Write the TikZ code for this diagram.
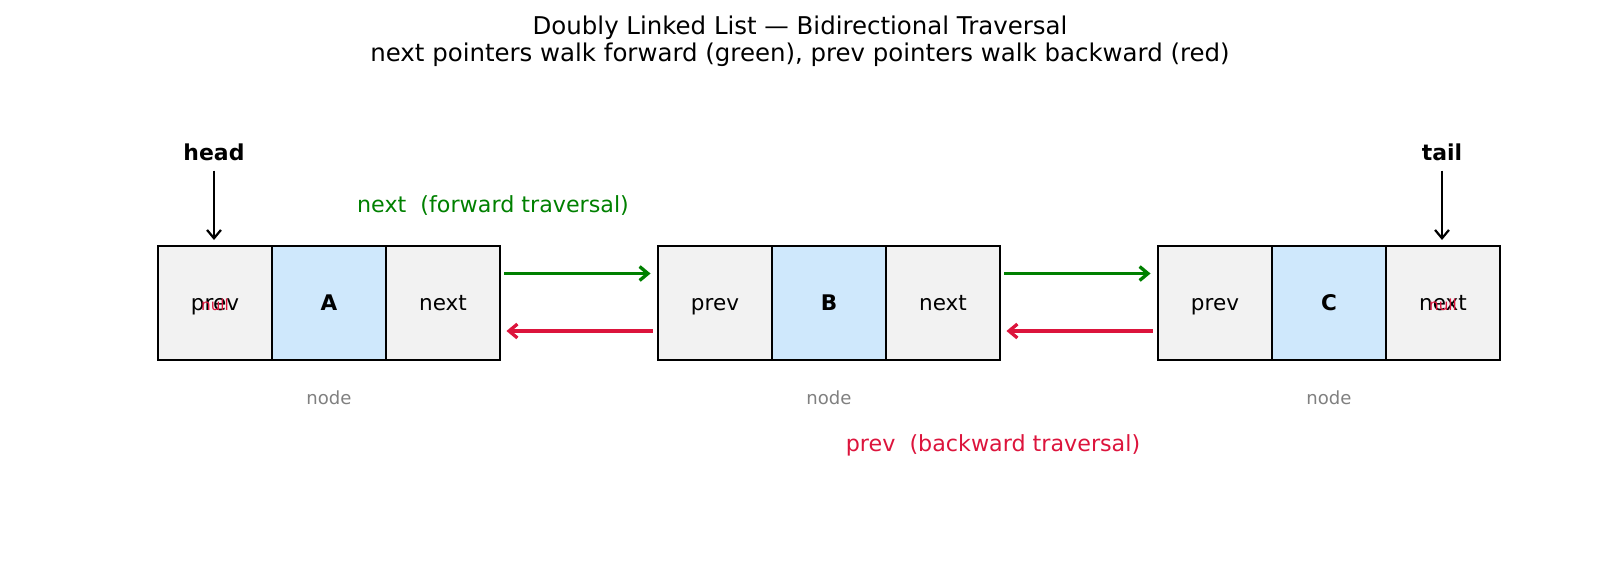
\documentclass[tikz,border=0pt]{standalone}
\usepackage{fontspec}
\setmainfont{DejaVu Sans}
\usetikzlibrary{arrows.meta,calc}
\definecolor{cellgray}{HTML}{F2F2F2}
\definecolor{cellblue}{HTML}{CFE8FC}
\definecolor{fwdgreen}{HTML}{008000}
\definecolor{bwdred}{HTML}{DC143C}
\definecolor{notegray}{HTML}{808080}
\begin{document}
\begin{tikzpicture}[x=0.72pt,y=-0.72pt,
  cell/.style={draw=black, line width=2.1pt, minimum width=82.08pt, minimum height=82.08pt,
    inner sep=0pt, text height=13pt, text depth=2.2pt, font=\fontsize{15.5}{18}\selectfont},
  ptrcell/.style={cell, fill=cellgray},
  valcell/.style={cell, fill=cellblue, font=\fontsize{15.5}{18}\selectfont\bfseries},
  nulltext/.style={text=bwdred, inner sep=0pt, text height=13pt, text depth=2.2pt, font=\fontsize{11}{13}\selectfont},
  nodenote/.style={text=notegray, inner sep=0pt, anchor=base, font=\fontsize{13}{15}\selectfont},
  endlabel/.style={inner sep=0pt, anchor=base, font=\fontsize{15.8}{18}\selectfont\bfseries},
  endarrow/.style={line width=1.6pt, -{Straight Barb[length=6pt,width=10pt]}},
  fwdarrow/.style={draw=fwdgreen, line width=2.4pt, -{Straight Barb[length=6pt,width=10pt]}},
  bwdarrow/.style={draw=bwdred, line width=2.4pt, -{Straight Barb[length=6pt,width=10pt]}},
  titletext/.style={inner sep=0pt, anchor=base, font=\fontsize{17.6}{20}\selectfont},
  travlabel/.style={inner sep=0pt, anchor=base, font=\fontsize{16}{19}\selectfont}
]
\useasboundingbox (0,0) rectangle (1600,567);
% title
\node[titletext] (title1) at (800,34) {Doubly Linked List — Bidirectional Traversal};
\node[titletext] (title2) at (800,61) {next pointers walk forward (green), prev pointers walk backward (red)};
% cells
\node[ptrcell] (aP) at (215,303) {prev};
\node[valcell] (aV) at (329,303) {A};
\node[ptrcell] (aN) at (443,303) {next};
\node[ptrcell] (bP) at (715,303) {prev};
\node[valcell] (bV) at (829,303) {B};
\node[ptrcell] (bN) at (943,303) {next};
\node[ptrcell] (cP) at (1215,303) {prev};
\node[valcell] (cV) at (1329,303) {C};
\node[ptrcell] (cN) at (1443,303) {next};
% null markers
\node[nulltext] (aNull) at (aP.center) {null};
\node[nulltext] (cNull) at (cN.center) {null};
% node notes
\node[nodenote] (aNote) at (329,404) {node};
\node[nodenote] (bNote) at (829,404) {node};
\node[nodenote] (cNote) at (1329,404) {node};
% head / tail
\node[endlabel] (head) at (214,160) {head};
\node[endlabel] (tail) at (1442,160) {tail};
\coordinate (headTip) at (214,240);
\coordinate (tailTip) at (1442,240);
\draw[endarrow] ($(head.south)+(0,10)$) -- (headTip);
\draw[endarrow] ($(tail.south)+(0,10)$) -- (tailTip);
% forward arrows
\draw[fwdarrow] ($(aN.east)+(3,-29.5)$) -- ($(bP.west)+(-6,-29.5)$);
\draw[fwdarrow] ($(bN.east)+(3,-29.5)$) -- ($(cP.west)+(-6,-29.5)$);
% backward arrows
\draw[bwdarrow] ($(bP.west)+(-4,28)$) -- ($(aN.east)+(5,28)$);
\draw[bwdarrow] ($(cP.west)+(-4,28)$) -- ($(bN.east)+(5,28)$);
% traversal labels
\node[travlabel, text=fwdgreen] (fwdLabel) at (493,212) {next\ \ (forward traversal)};
\node[travlabel, text=bwdred] (bwdLabel) at (993,451) {prev\ \ (backward traversal)};
\end{tikzpicture}
\end{document}
